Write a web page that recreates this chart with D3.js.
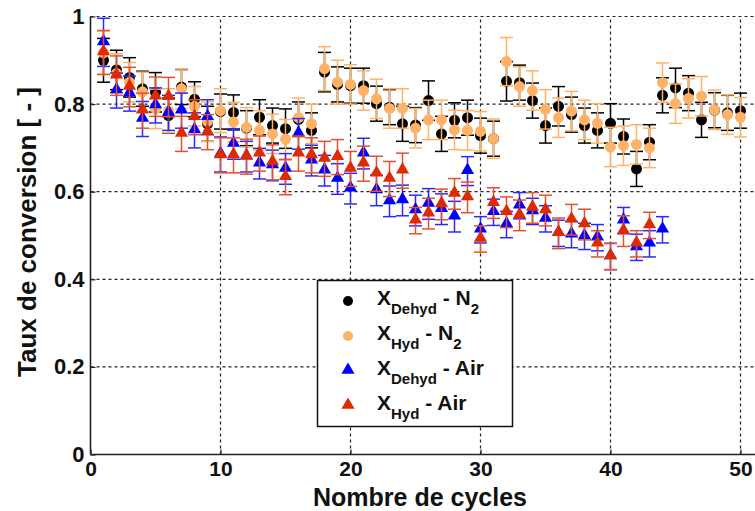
<!DOCTYPE html>
<html>
<head>
<meta charset="utf-8">
<script src="https://cdn.jsdelivr.net/npm/d3@7"></script>
<style>
  body { margin: 0; background: #fff; }
  text { font-family: "Liberation Sans", Arial, sans-serif; font-weight: bold; }
</style>
</head>
<body>
<div id="chart"></div>
<script>
var svgWidth = 755;
var svgHeight = 511;

// cycle numbers (x)
var cycles = [1,2,3,4,5,6,7,8,9,10,11,12,13,14,15,16,17,18,19,20,21,22,23,24,25,
  26,27,28,29,30,31,32,33,34,35,36,37,38,39,40,41,42,43,44,45,46,47,48,49,50];

// X Dehyd - N2
var dehydN2 = [0.900,0.878,0.861,0.835,0.827,0.774,0.839,0.811,0.755,0.783,
  0.781,0.745,0.770,0.751,0.744,0.765,0.740,0.873,0.845,0.842,
  0.842,0.801,0.793,0.755,0.752,0.808,0.732,0.763,0.769,0.728,
  0.721,0.852,0.849,0.808,0.751,0.795,0.776,0.751,0.740,0.756,
  0.726,0.652,0.713,0.820,0.837,0.825,0.764,0.786,0.780,0.785];
var dehydN2Err = [0.05,0.045,0.045,0.04,0.045,0.04,0.04,0.04,0.04,0.04,
  0.04,0.04,0.04,0.04,0.045,0.04,0.04,0.045,0.04,0.04,
  0.04,0.04,0.04,0.04,0.04,0.045,0.04,0.04,0.04,0.04,
  0.04,0.045,0.04,0.04,0.04,0.045,0.04,0.04,0.04,0.045,
  0.04,0.04,0.04,0.04,0.045,0.04,0.04,0.04,0.04,0.04];

// X Hyd - N2
var hydN2 = [0.917,0.870,0.850,0.828,0.789,0.785,0.835,0.795,0.760,0.785,
  0.759,0.747,0.740,0.732,0.720,0.769,0.755,0.881,0.850,0.845,
  0.831,0.812,0.790,0.790,0.745,0.764,0.764,0.741,0.740,0.738,
  0.721,0.897,0.840,0.831,0.788,0.769,0.784,0.764,0.756,0.702,
  0.705,0.708,0.700,0.849,0.801,0.813,0.818,0.787,0.776,0.770];
var hydN2Err = [0.05,0.045,0.045,0.045,0.045,0.05,0.045,0.045,0.045,0.05,
  0.045,0.045,0.045,0.045,0.045,0.045,0.045,0.05,0.05,0.045,
  0.045,0.045,0.045,0.045,0.045,0.045,0.045,0.045,0.045,0.045,
  0.045,0.055,0.045,0.045,0.045,0.045,0.045,0.045,0.045,0.045,
  0.045,0.045,0.045,0.045,0.045,0.045,0.045,0.045,0.045,0.045];

// X Dehyd - Air
var dehydAir = [0.941,0.831,0.824,0.766,0.797,0.780,0.785,0.740,0.770,0.685,
  0.709,0.680,0.664,0.660,0.652,0.732,0.671,0.648,0.629,0.607,
  0.687,0.603,0.578,0.580,0.557,0.572,0.560,0.543,0.647,0.513,
  0.553,0.525,0.568,0.555,0.538,0.505,0.502,0.498,0.495,0.452,
  0.534,0.473,0.481,0.513,null,null,null,null,null,null];
var dehydAirErr = [0.055,0.04,0.04,0.04,0.04,0.04,0.04,0.04,0.04,0.04,
  0.035,0.035,0.035,0.035,0.035,0.035,0.035,0.035,0.035,0.035,
  0.035,0.035,0.035,0.035,0.035,0.035,0.035,0.035,0.033,0.03,
  0.03,0.03,0.03,0.03,0.03,0.03,0.03,0.03,0.03,0.03,
  0.03,0.03,0.03,0.03,null,null,null,null,null,null];

// X Hyd - Air
var hydAir = [0.918,0.865,0.839,0.785,0.817,0.816,0.732,0.770,0.736,0.683,
  0.683,0.680,0.687,0.667,0.633,0.687,0.683,0.675,0.679,0.652,
  0.664,0.641,0.629,0.648,0.534,0.550,0.571,0.595,0.587,0.492,
  0.574,0.553,0.546,0.563,0.557,0.505,0.536,0.525,0.481,0.452,
  0.510,0.481,0.523,null,null,null,null,null,null,null];
var hydAirErr = [0.05,0.045,0.045,0.04,0.045,0.045,0.04,0.04,0.04,0.04,
  0.04,0.04,0.04,0.04,0.04,0.04,0.04,0.04,0.04,0.04,
  0.04,0.04,0.04,0.04,0.03,0.035,0.035,0.035,0.035,0.03,
  0.035,0.035,0.035,0.035,0.035,0.035,0.035,0.035,0.03,0.03,
  0.035,0.03,0.03,null,null,null,null,null,null,null];

var xTicks = [0, 10, 20, 30, 40, 50];
var yTicks = [0, 0.2, 0.4, 0.6, 0.8, 1];

var series = [
  { name: "Dehyd", gas: "N", sub2: "2", vals: dehydN2, err: dehydN2Err, shape: "circle", fill: "#000000", bar: "#000000" },
  { name: "Hyd", gas: "N", sub2: "2", vals: hydN2, err: hydN2Err, shape: "circle", fill: "#ffb266", bar: "#ffb266" },
  { name: "Dehyd", gas: "Air", sub2: "", vals: dehydAir, err: dehydAirErr, shape: "triangle", fill: "#0000ff", bar: "#2a2aff" },
  { name: "Hyd", gas: "Air", sub2: "", vals: hydAir, err: hydAirErr, shape: "triangle", fill: "#dd2a00", bar: "#e5502e" }
];

var svg = d3.select("#chart").append("svg")
  .attr("width", svgWidth)
  .attr("height", svgHeight);

var x = d3.scaleLinear().domain([0, 50]).range([90.5, 740.5]);
var y = d3.scaleLinear().domain([0, 1]).range([454.5, 16.5]);
var rightEdge = 760;

// grid
var grid = svg.append("g");
grid.selectAll(".vg").data(xTicks.filter(d => d > 0)).enter().append("line")
  .attr("x1", d => x(d)).attr("x2", d => x(d))
  .attr("y1", y(0)).attr("y2", y(1))
  .attr("stroke", "#222").attr("stroke-width", 1.2).attr("stroke-dasharray", "3,3");
grid.selectAll(".hg").data(yTicks.filter(d => d > 0)).enter().append("line")
  .attr("x1", x(0)).attr("x2", rightEdge)
  .attr("y1", d => y(d)).attr("y2", d => y(d))
  .attr("stroke", "#222").attr("stroke-width", 1.2).attr("stroke-dasharray", "3,3");

// axes
var xAxis = d3.axisBottom(x).tickValues(xTicks).tickSizeInner(-5).tickSizeOuter(0).tickPadding(7);
var yAxis = d3.axisLeft(y).tickValues(yTicks).tickSizeInner(-5).tickSizeOuter(0).tickPadding(6)
  .tickFormat(d => (d === 0 || d === 1) ? d : d.toFixed(1));

var gx = svg.append("g").attr("transform", `translate(0, ${y(0)})`).call(xAxis);
var gy = svg.append("g").attr("transform", `translate(${x(0)}, 0)`).call(yAxis);
gx.select(".domain").remove();
gy.select(".domain").remove();
gx.selectAll("text").attr("font-size", 21);
gy.selectAll("text").attr("font-size", 22);
[gx, gy].forEach(g => {
  g.selectAll("text").attr("font-family", "Liberation Sans, Arial, sans-serif")
    .attr("font-weight", "bold").attr("fill", "#111");
  g.selectAll(".tick line").attr("stroke", "#222").attr("stroke-width", 1.2);
});

svg.append("line").attr("x1", x(0)).attr("x2", rightEdge).attr("y1", y(0)).attr("y2", y(0))
  .attr("stroke", "#222").attr("stroke-width", 1.6);
svg.append("line").attr("x1", x(0)).attr("x2", x(0)).attr("y1", y(0)).attr("y2", y(1))
  .attr("stroke", "#222").attr("stroke-width", 1.6);

// data: error bars + markers
var triangle = d3.symbol().type(d3.symbolTriangle).size(75);
var capW = 6.5;

series.forEach(function(s) {
  var pts = cycles.map((c, i) => ({ c: c, v: s.vals[i], e: s.err[i] })).filter(d => d.v !== null);
  var g = svg.append("g");
  var eb = g.selectAll(".eb").data(pts).enter().append("g")
    .attr("stroke", s.bar).attr("stroke-width", 1.5);
  eb.append("line").attr("x1", d => x(d.c)).attr("x2", d => x(d.c))
    .attr("y1", d => y(d.v + d.e)).attr("y2", d => y(d.v - d.e));
  eb.append("line").attr("x1", d => x(d.c) - capW).attr("x2", d => x(d.c) + capW)
    .attr("y1", d => y(d.v + d.e)).attr("y2", d => y(d.v + d.e));
  eb.append("line").attr("x1", d => x(d.c) - capW).attr("x2", d => x(d.c) + capW)
    .attr("y1", d => y(d.v - d.e)).attr("y2", d => y(d.v - d.e));

  if (s.shape === "circle") {
    g.selectAll("circle").data(pts).enter().append("circle")
      .attr("cx", d => x(d.c)).attr("cy", d => y(d.v)).attr("r", 5.5)
      .attr("fill", s.fill);
  } else {
    g.selectAll("path").data(pts).enter().append("path")
      .attr("d", triangle)
      .attr("transform", d => `translate(${x(d.c)}, ${y(d.v) - 1})`)
      .attr("fill", s.fill);
  }
});

// legend
var legend = svg.append("g");
legend.append("rect").attr("x", 317.5).attr("y", 280.5).attr("width", 195).attr("height", 146)
  .attr("fill", "#fff").attr("stroke", "#111").attr("stroke-width", 1.5);

series.forEach(function(s, i) {
  var cy = 301 + i * 35;
  if (s.shape === "circle") {
    legend.append("circle").attr("cx", 348).attr("cy", cy).attr("r", 5).attr("fill", s.fill);
  } else {
    legend.append("path").attr("d", triangle).attr("transform", `translate(348, ${cy - 1})`).attr("fill", s.fill);
  }
  var t = legend.append("text").attr("x", 377).attr("y", cy + 4).attr("font-size", 21).attr("fill", "#111");
  t.append("tspan").text("X");
  t.append("tspan").attr("font-size", 15).attr("dy", 9).text(s.name);
  t.append("tspan").attr("dy", -9).text(" - " + s.gas);
  if (s.sub2) t.append("tspan").attr("font-size", 15).attr("dy", 9).text(s.sub2);
});

// axis titles
svg.append("text")
  .attr("x", 420).attr("y", 505.5)
  .attr("text-anchor", "middle")
  .attr("font-size", 25).attr("fill", "#111")
  .text("Nombre de cycles");

svg.append("text")
  .attr("transform", "translate(36, 232) rotate(-90)")
  .attr("text-anchor", "middle")
  .attr("font-size", 26).attr("fill", "#111")
  .text("Taux de conversion [ - ]");
</script>
</body>
</html>
